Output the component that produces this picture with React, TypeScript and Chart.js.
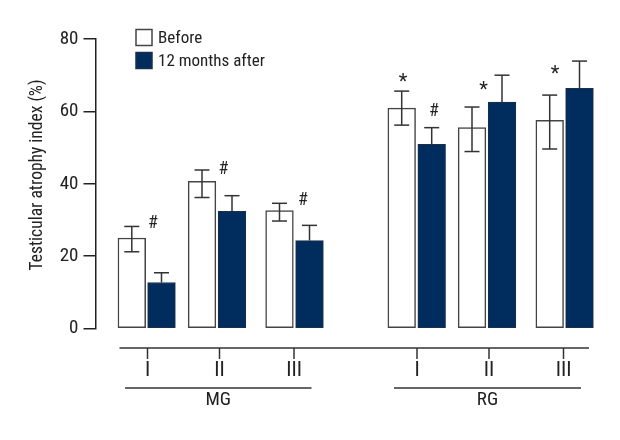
import React, { useEffect, useRef } from "react";
import { Chart, registerables } from "chart.js";

Chart.register(...registerables);

const FONT = '"Roboto Condensed", "Liberation Sans", sans-serif';
const INK = "#222222";
const NAVY = "#012C5E";

const yTitle = "Testicular atrophy index (%)";
const subgroupLabels = ["I", "II", "III", "I", "II", "III"];
const groupLabels = ["MG", "RG"];
const beforeValues = [25, 40.7, 32.6, 60.9, 55.5, 57.5];
const afterValues = [12.7, 32.4, 24.3, 50.9, 62.6, 66.4];
const beforeErrTop = [28.2, 43.8, 34.6, 65.6, 61.2, 64.5];
const beforeErrLow = [21.2, 36.2, 29.7, 56.2, 48.9, 49.6];
const afterErrTop = [15.4, 36.7, 28.5, 55.5, 70, 73.9];

// layout: horizontal positions on the linear x scale (1 unit = 1 px)
const beforeX = [131.8, 202, 279.5, 401.7, 472, 549.7];
const afterX = [161.5, 232, 309.5, 431.7, 502, 579.5];
const subgroupTickX = [147.5, 219.5, 294, 417, 489, 563.5];
const axisLineX = [119.5, 589];
const groupSpans = [[125, 311.5], [394, 581]];
const markers = [
  { s: "#", x: 153, y: 29 },
  { s: "#", x: 223.5, y: 44 },
  { s: "#", x: 303, y: 35.5 },
  { s: "#", x: 434, y: 60 },
  { s: "*", x: 403, y: 68.8 },
  { s: "*", x: 483.5, y: 66.4 },
  { s: "*", x: 555, y: 70.8 },
];

const overlay = {
  id: "overlay",
  afterDatasetsDraw(chart: any) {
    const { ctx, scales } = chart;
    const x = scales.x, y = scales.y;
    const line = (a: number, b: number, c: number, d: number) => {
      ctx.beginPath(); ctx.moveTo(a, b); ctx.lineTo(c, d); ctx.stroke();
    };
    ctx.save();
    ctx.strokeStyle = "#333333";
    ctx.lineWidth = 1.5;
    const whisk = (xs: number[], tops: number[], lows: number[] | null) => {
      xs.forEach((v, i) => {
        const px = x.getPixelForValue(v);
        const t = y.getPixelForValue(tops[i]);
        const b = lows ? y.getPixelForValue(lows[i]) : y.getPixelForValue(afterValues[i]);
        line(px, t, px, b);
        line(px - 7.5, t, px + 7.5, t);
        if (lows) line(px - 7.5, b, px + 7.5, b);
      });
    };
    whisk(beforeX, beforeErrTop, beforeErrLow);
    whisk(afterX, afterErrTop, null);

    // lower axis
    const axisY = 348, tickEnd = 359, groupY = 388;
    line(x.getPixelForValue(axisLineX[0]), axisY, x.getPixelForValue(axisLineX[1]), axisY);
    ctx.fillStyle = INK;
    ctx.textAlign = "center";
    ctx.textBaseline = "middle";
    ctx.font = `21px ${FONT}`;
    subgroupTickX.forEach((v, i) => {
      const px = x.getPixelForValue(v);
      line(px, axisY, px, tickEnd);
      ctx.fillText(subgroupLabels[i], px, 371);
    });
    ctx.font = `19px ${FONT}`;
    groupSpans.forEach((s, i) => {
      const a = x.getPixelForValue(s[0]), b = x.getPixelForValue(s[1]);
      line(a, groupY, b, groupY);
      ctx.fillText(groupLabels[i], (a + b) / 2, 400.5);
    });
    markers.forEach((m) => {
      ctx.font = m.s === "*" ? `20px ${FONT}` : `18px ${FONT}`;
      ctx.fillText(m.s, x.getPixelForValue(m.x), y.getPixelForValue(m.y) + (m.s === "*" ? 3 : 0));
    });

    // y-axis title
    ctx.save();
    ctx.translate(38, 175);
    ctx.rotate(-Math.PI / 2);
    ctx.font = `17.5px ${FONT}`;
    ctx.fillText(yTitle, 0, 0);
    ctx.restore();

    // legend
    ctx.textAlign = "left";
    ctx.font = `17px ${FONT}`;
    chart.data.datasets.forEach((d: any, i: number) => {
      const top = 29.5 + i * 23;
      ctx.fillStyle = d.backgroundColor;
      ctx.strokeStyle = d.borderColor;
      ctx.lineWidth = 1.5;
      ctx.fillRect(136, top, 16, 16);
      ctx.strokeRect(136, top, 16, 16);
      ctx.fillStyle = INK;
      ctx.fillText(d.label, 158, top + 9);
    });
    ctx.restore();
  },
};

export default function App() {
  const ref = useRef<HTMLCanvasElement>(null);
  useEffect(() => {
    const chart = new Chart(ref.current as HTMLCanvasElement, {
      type: "bar",
      data: {
        datasets: [
          {
            label: "Before",
            data: beforeX.map((x, i) => ({ x, y: beforeValues[i] })),
            backgroundColor: "#FFFFFF",
            borderColor: "#444444",
            borderWidth: 1.5,
            borderSkipped: false,
            barThickness: 27.7,
            grouped: false,
          },
          {
            label: "12 months after",
            data: afterX.map((x, i) => ({ x, y: afterValues[i] })),
            backgroundColor: NAVY,
            borderColor: "#1d2f48",
            borderWidth: 1,
            borderSkipped: false,
            barThickness: 27.7,
            grouped: false,
          },
        ] as any,
      },
      options: {
        animation: false,
        responsive: false,
        devicePixelRatio: 1,
        layout: { padding: { left: 0, right: 0, top: 39, bottom: 111.5 } },
        plugins: {
          tooltip: { enabled: false },
          legend: { display: false },
        },
        scales: {
          x: { type: "linear", min: 95.5, max: 620, display: false, offset: false },
          y: {
            min: 0,
            max: 80,
            afterFit: (s: any) => { s.width = 95.5; },
            border: { color: INK, width: 1.5 },
            grid: { drawOnChartArea: false, drawTicks: true, tickLength: 12, color: INK, lineWidth: 1.5 },
            ticks: { stepSize: 20, padding: 5, color: INK, font: { family: FONT, size: 19 } },
          },
        },
      },
      plugins: [overlay],
    } as any);
    return () => chart.destroy();
  }, []);
  return (
    <div style={{ position: "absolute", left: 0, top: 0, width: 620, height: 440 }}>
      <canvas ref={ref} width={620} height={440} style={{ display: "block", background: "#fff" }} />
    </div>
  );
}
